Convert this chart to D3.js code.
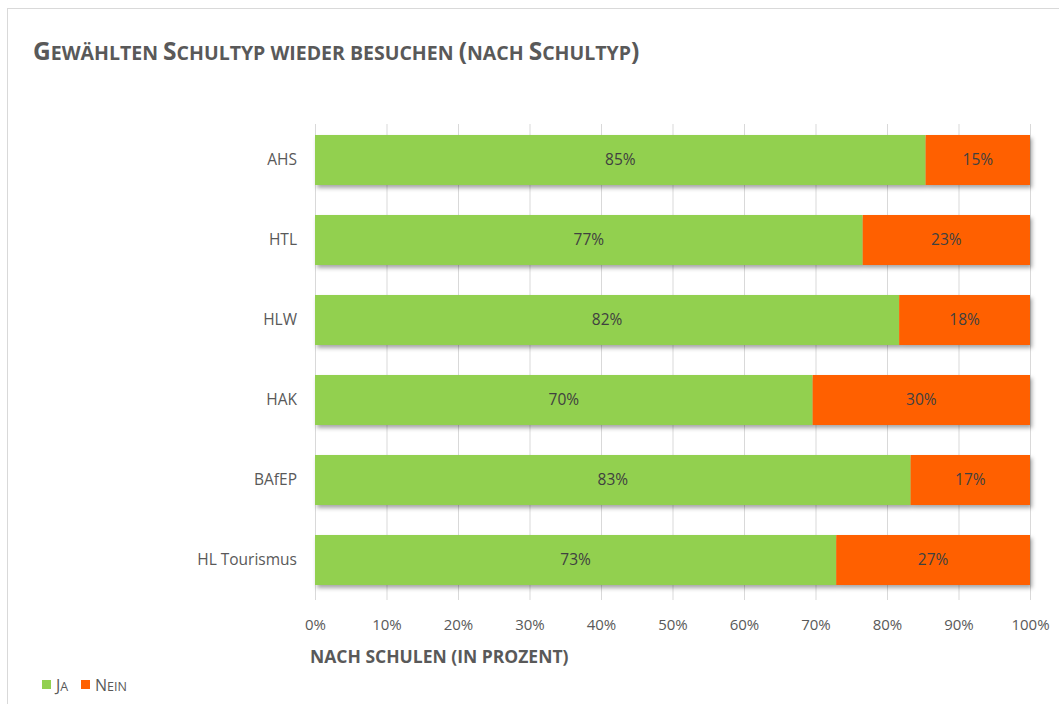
<!DOCTYPE html>
<html>
<head>
<meta charset="utf-8">
<script src="https://cdn.jsdelivr.net/npm/d3@7"></script>
<style>
  body { margin: 0; background: #fff; }
  svg { display: block; font-family: 'Open Sans', sans-serif; }
</style>
</head>
<body>
<div id="chart"></div>
<script>
const schools = ['AHS', 'HTL', 'HLW', 'HAK', 'BAfEP', 'HL Tourismus'];
const ja = [85.4, 76.6, 81.7, 69.6, 83.3, 72.9];
const nein = [14.6, 23.4, 18.3, 30.4, 16.7, 27.1];
const seriesNames = ['Ja', 'Nein'];
const colors = ['#92d050', '#ff6000'];
const xTicks = [0, 10, 20, 30, 40, 50, 60, 70, 80, 90, 100];

const width = 1059, height = 704;
const margin = { top: 120, right: 29, bottom: 104, left: 315 };

const svg = d3.select('#chart').append('svg')
    .attr('width', width)
    .attr('height', height);

// drop shadow for bars
const defs = svg.append('defs');
defs.append('filter')
    .attr('id', 'shadow')
    .attr('x', '-5%').attr('y', '-20%').attr('width', '110%').attr('height', '150%')
    .append('feDropShadow')
    .attr('dx', 2).attr('dy', 3).attr('stdDeviation', 2)
    .attr('flood-color', '#000').attr('flood-opacity', 0.35);

// chart frame
svg.append('rect')
    .attr('x', 7.5).attr('y', 8.5)
    .attr('width', width).attr('height', height)
    .attr('fill', 'none').attr('stroke', '#d9d9d9');

// title in small caps
const title = svg.append('text')
    .attr('x', 33).attr('y', 60)
    .attr('fill', '#595959')
    .attr('font-weight', 'bold');
const titleParts = [
    ['G', 24.5], ['EWÄHLTEN ', 19.5], ['S', 24.5], ['CHULTYP WIEDER BESUCHEN ', 19.5],
    ['(', 24.5], ['NACH ', 19.5], ['S', 24.5], ['CHULTYP', 19.5], [')', 24.5]
];
titleParts.forEach(([t, s]) => title.append('tspan').attr('font-size', s).text(t));

const x = d3.scaleLinear()
    .domain([0, 100])
    .range([margin.left, width - margin.right]);

const y = d3.scaleBand()
    .domain(schools)
    .range([margin.top, height - margin.bottom])
    .paddingInner(0.375)
    .paddingOuter(0.1875);

// gridlines
svg.append('g')
    .selectAll('line')
    .data(xTicks)
    .join('line')
    .attr('x1', d => x(d) + 0.5).attr('x2', d => x(d) + 0.5)
    .attr('y1', margin.top + 4).attr('y2', height - margin.bottom)
    .attr('stroke', '#d9d9d9');

// x axis
svg.append('g')
    .attr('transform', `translate(0,${height - margin.bottom})`)
    .call(d3.axisBottom(x).tickValues(xTicks).tickSize(0).tickPadding(19).tickFormat(d => d + '%'))
    .call(g => g.select('.domain').remove())
    .call(g => g.selectAll('text').attr('font-size', 15).attr('fill', '#595959').attr('font-family', 'Open Sans'));

// y axis
svg.append('g')
    .attr('transform', `translate(${margin.left},0)`)
    .call(d3.axisLeft(y).tickSize(0).tickPadding(18))
    .call(g => g.select('.domain').remove())
    .call(g => g.selectAll('text').attr('font-size', 15.5).attr('fill', '#595959').attr('font-family', 'Open Sans'));

const rows = schools.map((s, i) => ({ school: s, Ja: ja[i], Nein: nein[i] }));
const stacked = d3.stack().keys(seriesNames)(rows);

// bars
const layer = svg.append('g').attr('filter', 'url(#shadow)');
layer.selectAll('g')
    .data(stacked)
    .join('g')
    .attr('fill', (d, i) => colors[i])
    .selectAll('rect')
    .data(d => d)
    .join('rect')
    .attr('x', d => x(d[0]))
    .attr('y', d => y(d.data.school))
    .attr('width', d => x(d[1]) - x(d[0]))
    .attr('height', y.bandwidth());

// value labels
svg.append('g')
    .selectAll('g')
    .data(stacked)
    .join('g')
    .selectAll('text')
    .data(d => d.map(v => Object.assign(v, { key: d.key })))
    .join('text')
    .attr('x', d => (x(d[0]) + x(d[1])) / 2)
    .attr('y', d => y(d.data.school) + y.bandwidth() / 2)
    .attr('dy', '0.35em')
    .attr('text-anchor', 'middle')
    .attr('font-size', 15.5)
    .attr('fill', '#404040')
    .text(d => Math.round(d.data[d.key]) + '%');

// axis title
svg.append('text')
    .attr('x', 310).attr('y', 663)
    .attr('font-size', 17.5)
    .attr('font-weight', 'bold')
    .attr('fill', '#595959')
    .text('NACH SCHULEN (IN PROZENT)');

// legend
const legendX = [42, 81];
const legend = svg.append('g')
    .selectAll('g')
    .data(seriesNames)
    .join('g')
    .attr('transform', (d, i) => `translate(${legendX[i]},680)`);
legend.append('rect')
    .attr('width', 9).attr('height', 9)
    .attr('fill', (d, i) => colors[i]);
legend.append('text')
    .attr('x', 14).attr('y', 10.5)
    .attr('fill', '#595959')
    .each(function (d) {
        const t = d3.select(this);
        t.append('tspan').attr('font-size', 16).text(d[0]);
        t.append('tspan').attr('font-size', 12.5).text(d.slice(1).toUpperCase());
    });
</script>
</body>
</html>
